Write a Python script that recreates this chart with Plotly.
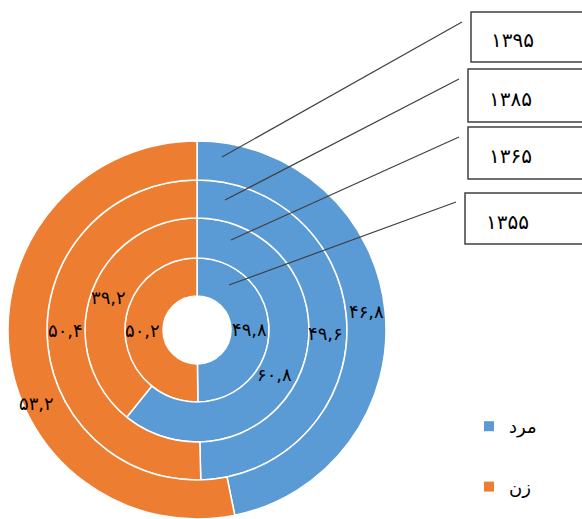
import math
import plotly.graph_objects as go

# ---- data ----
years = ["۱۳۵۵", "۱۳۶۵", "۱۳۸۵", "۱۳۹۵"]          # inner -> outer ring
series_names = ["مرد", "زن"]
male = [49.8, 60.8, 49.6, 46.8]
female = [50.2, 39.2, 50.4, 53.2]

colors = ["#5B9BD5", "#ED7D31"]

# ---- layout constants (pixels) ----
W, H = 582, 519
CX, CY = 197, 330
RADII = [34, 72, 112, 150, 189]
# small manual label nudges (dx, dy in px) per ring, per slice
NUDGE = [[(0, 0), (-2, 0)], [(-9, 14), (-2, -2)], [(-2, 5), (-1, -1)], [(1, -1), (8, 56)]]

FA = str.maketrans("0123456789.", "۰۱۲۳۴۵۶۷۸۹,")
def fa(v):
    return f"{v:.1f}".translate(FA)

def px(x):
    return x / W
def py(y):
    return 1 - y / H

fig = go.Figure()
annotations = []
LABEL_FONT = dict(family="DejaVu Sans", size=18, color="black")

for i, yr in enumerate(years):
    r_in, r_out = RADII[i], RADII[i + 1]
    vals = [male[i], female[i]]
    fig.add_trace(go.Pie(
        labels=series_names,
        values=vals,
        textinfo="none",
        hole=r_in / r_out,
        sort=False,
        direction="clockwise",
        rotation=0,
        marker=dict(colors=colors, line=dict(color="white", width=1.5)),
        domain=dict(x=[px(CX - r_out), px(CX + r_out)],
                    y=[py(CY + r_out), py(CY - r_out)]),
        showlegend=False,
        hoverinfo="label+value",
        name=yr,
    ))
    # data labels at the middle of each slice (clockwise from 12 o'clock)
    total = sum(vals)
    cum = 0.0
    r_mid = (r_in + r_out) / 2
    for j, v in enumerate(vals):
        mid = (cum + v / 2) / total * 2 * math.pi
        cum += v
        lx = CX + r_mid * math.sin(mid) + NUDGE[i][j][0]
        ly = CY - r_mid * math.cos(mid) + NUDGE[i][j][1]
        annotations.append(dict(text=fa(v), xref="paper", yref="paper",
                                x=px(lx), y=py(ly), xanchor="center",
                                yanchor="middle", align="left",
                                showarrow=False, font=LABEL_FONT))

for name, c in zip(series_names, colors):
    fig.add_trace(go.Scatter(
        x=[None], y=[None], mode="markers", name=name, legendgroup=name,
        marker=dict(symbol="square", size=10, color=c),
    ))

# callout boxes with leader lines (outer ring first)
callouts = [
    ("۱۳۹۵", (222, 157), (462, 22), (471, 12, 62), 489),
    ("۱۳۸۵", (225, 200), (459, 79), (468, 69, 122), 487),
    ("۱۳۶۵", (231, 240), (459, 137), (468, 127, 179), 487),
    ("۱۳۵۵", (229, 285), (456, 202), (465, 193, 244), 484),
]
shapes = []
for yr, (sx, sy), (ex, ey), (bx0, by0, by1), tx in callouts:
    shapes.append(dict(type="line", xref="paper", yref="paper",
                       x0=px(sx), y0=py(sy), x1=px(ex), y1=py(ey),
                       line=dict(color="#404040", width=1.2)))
    shapes.append(dict(type="rect", xref="paper", yref="paper",
                       x0=px(bx0), y0=py(by1), x1=px(640), y1=py(by0),
                       line=dict(color="#404040", width=1.5), fillcolor="white",
                       layer="below"))
    annotations.append(dict(text=yr, xref="paper", yref="paper",
                            x=px(tx), y=py((by0 + by1) / 2 + 3),
                            xanchor="left", yanchor="middle", align="left",
                            showarrow=False,
                            font=dict(family="DejaVu Sans", size=20, color="black")))

fig.update_layout(
    width=W, height=H,
    margin=dict(l=0, r=0, t=0, b=0),
    paper_bgcolor="white", plot_bgcolor="white",
    xaxis=dict(visible=False), yaxis=dict(visible=False),
    shapes=shapes, annotations=annotations,
    showlegend=True,
    legend=dict(x=px(469), y=py(408), xanchor="left", yanchor="top",
                font=dict(family="DejaVu Sans", size=18, color="black"),
                tracegroupgap=34, bgcolor="rgba(0,0,0,0)",
                itemwidth=30),
)

fig.write_html("out.html")
